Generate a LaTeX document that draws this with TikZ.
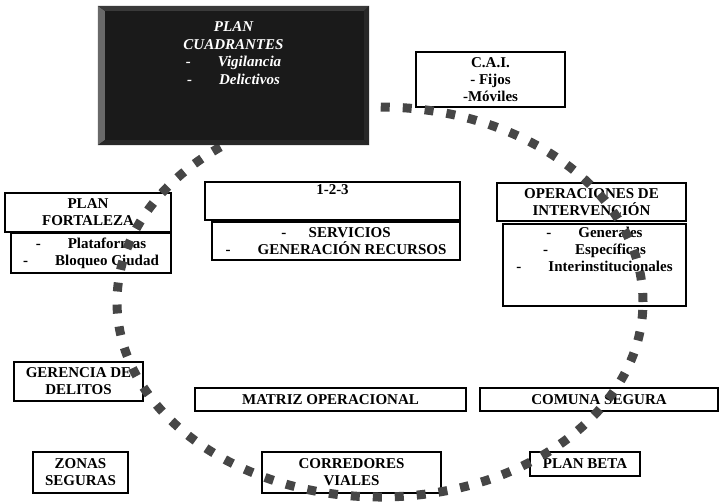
\documentclass[tikz,border=0pt]{standalone}
\usepackage{fontspec}
\setmainfont{Liberation Serif}
\usepackage{tikz}
\usetikzlibrary{positioning}
\usetikzlibrary{calc}

\definecolor{punto}{RGB}{70,70,70}
\definecolor{fondo}{RGB}{26,26,26}
\definecolor{bisel}{RGB}{105,105,105}
\definecolor{biseltop}{RGB}{58,58,58}
\definecolor{biseloscuro}{RGB}{40,40,40}

\tikzset{
  caja/.style={draw, fill=white, line width=1.6pt, inner sep=0pt, align=center,
    font=\bfseries\fontsize{15}{17}\selectfont},
  texto/.style={inner sep=0pt, align=center,
    font=\bfseries\fontsize{15}{17}\selectfont},
  puntos/.style={draw=punto, line width=9pt, dash pattern=on 9pt off 13pt},
}

\begin{document}
\begin{tikzpicture}[x=1pt,y=-1pt]
    \useasboundingbox (0,0) rectangle (720,501);
    % cajas
    \node[caja, minimum width=149pt, minimum height=55pt] (cai) at (490.5,79.5)
      {C.A.I.\\- Fijos\\-Móviles};
    \node[caja, minimum width=166pt, minimum height=39pt] (fortaleza) at (88,212.5)
      {PLAN\\FORTALEZA};
    \node[caja, minimum width=160pt, minimum height=40pt] (plataformas) at (91,253)
      {-\hspace{1.8em}Plataformas\\-\hspace{1.8em}Bloqueo Ciudad};
    \node[caja, minimum width=255pt, minimum height=38pt] (tres) at (332.5,201) {};
    \node[texto, below=3.5pt of tres.north] (tres-t) {1-2-3};
    \node[caja, minimum width=248pt, minimum height=38pt] (servicios) at (336,241)
      {-\hspace{1.5em}SERVICIOS\\-\hspace{1.8em}GENERACIÓN RECURSOS};
    \node[caja, minimum width=189pt, minimum height=38pt] (operaciones) at (591.5,202)
      {OPERACIONES DE\\INTERVENCIÓN};
    \node[caja, minimum width=183pt, minimum height=82pt] (tipos) at (594.5,265) {};
    \node[texto, below=3.5pt of tipos.north] (tipos-t)
      {-\hspace{1.8em}Generales\\-\hspace{1.8em}Específicas\\-\hspace{1.8em}Interinstitucionales};
    \node[caja, minimum width=129pt, minimum height=39pt] (gerencia) at (78.5,381.5)
      {GERENCIA DE\\DELITOS};
    \node[caja, minimum width=271pt, minimum height=23pt] (matriz) at (330.5,399.5)
      {MATRIZ OPERACIONAL};
    \node[caja, minimum width=238pt, minimum height=23pt] (comuna) at (599,399.5)
      {COMUNA SEGURA};
    \node[caja, minimum width=95pt, minimum height=41pt] (zonas) at (80.5,472.5)
      {ZONAS\\SEGURAS};
    \node[caja, minimum width=179pt, minimum height=41pt] (corredores) at (351.5,472.5)
      {CORREDORES\\VIALES};
    \node[caja, minimum width=110pt, minimum height=24pt] (beta) at (585,464)
      {PLAN BETA};
    % circulo punteado
    \draw[puntos] (380,302) ellipse [x radius=263pt, y radius=195pt];
    % plan cuadrantes
    \node[minimum width=271pt, minimum height=139pt, fill=fondo, inner sep=0pt]
      (cuadrantes) at (233.5,75.5) {};
    \fill[bisel] (cuadrantes.north west) -- (cuadrantes.south west)
      -- ($(cuadrantes.south west)+(7,-5)$) -- ($(cuadrantes.north west)+(7,5)$) -- cycle;
    \fill[biseltop] (cuadrantes.north west) -- (cuadrantes.north east)
      -- ($(cuadrantes.north east)+(-5,5)$) -- ($(cuadrantes.north west)+(7,5)$) -- cycle;
    \fill[biseloscuro] (cuadrantes.north east) -- (cuadrantes.south east)
      -- ($(cuadrantes.south east)+(-5,-5)$) -- ($(cuadrantes.north east)+(-5,5)$) -- cycle;
    \fill[biseloscuro] (cuadrantes.south west) -- (cuadrantes.south east)
      -- ($(cuadrantes.south east)+(-5,-5)$) -- ($(cuadrantes.south west)+(7,-5)$) -- cycle;
    \node[texto, text=white, font=\bfseries\itshape\fontsize{15}{17.5}\selectfont,
      below=16pt of cuadrantes.north] (cuadrantes-t)
      {PLAN\\CUADRANTES\\-\hspace{1.8em}Vigilancia\\-\hspace{1.8em}Delictivos};
\end{tikzpicture}
\end{document}
